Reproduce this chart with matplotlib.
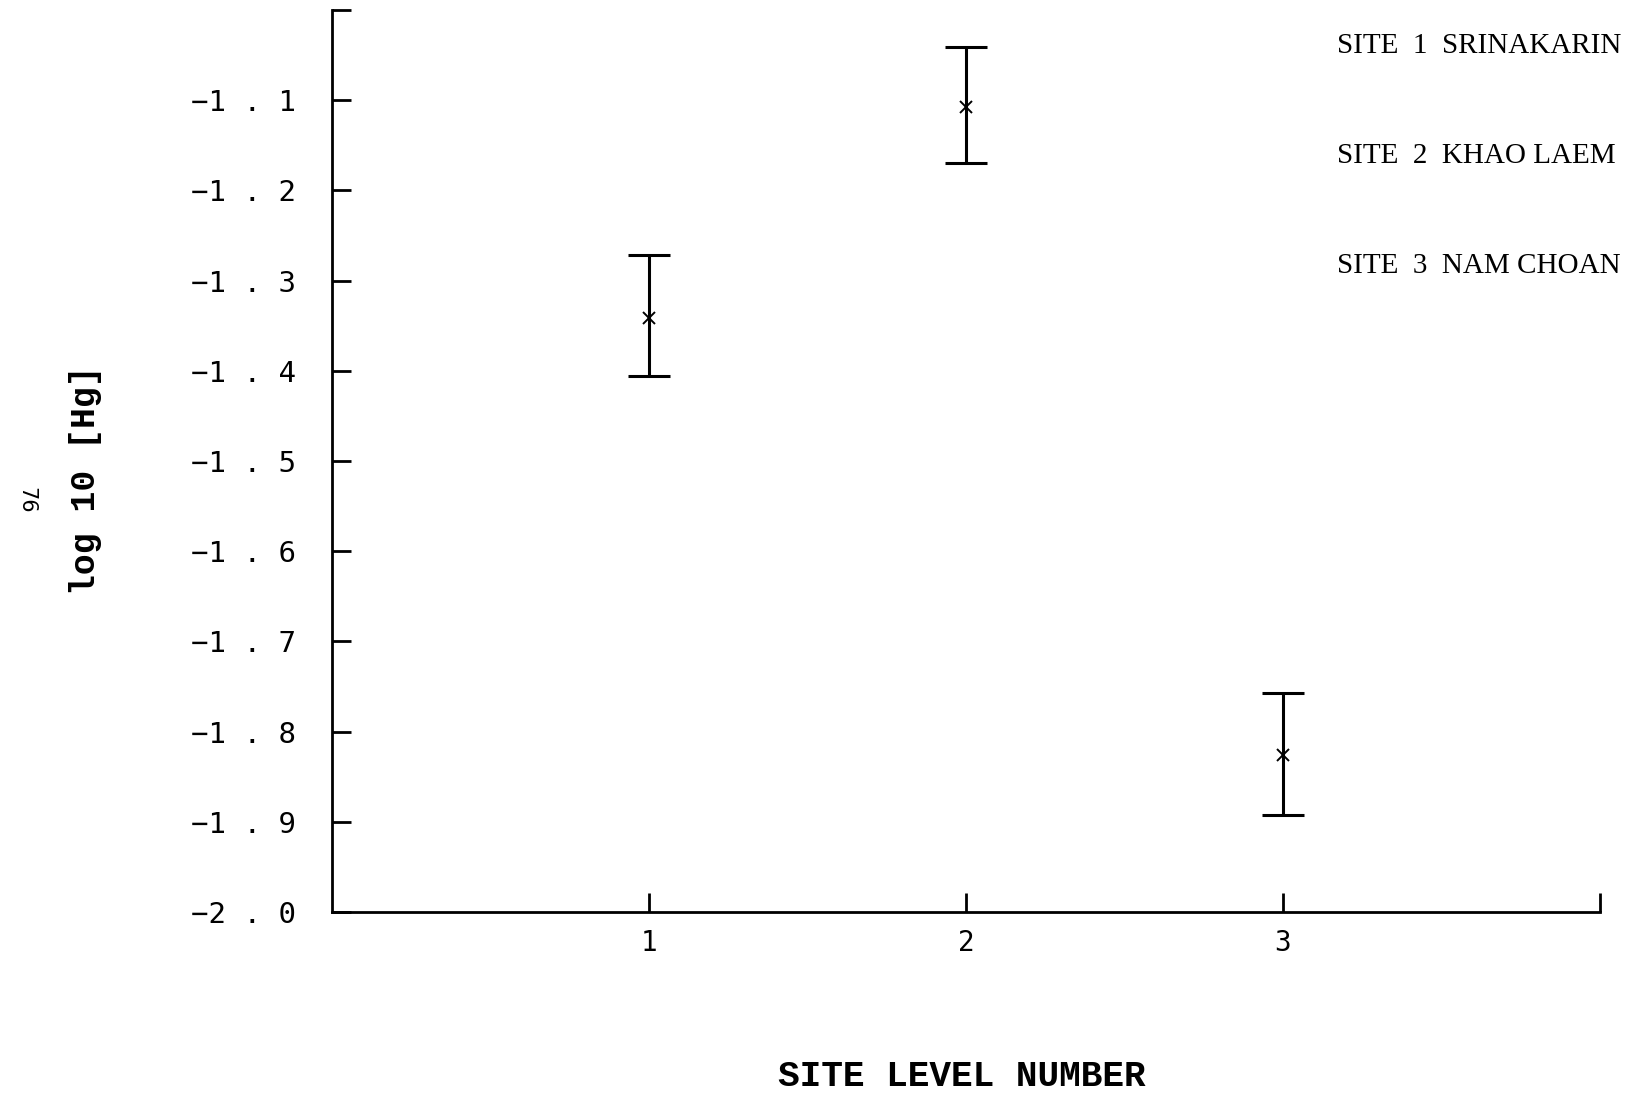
import matplotlib
matplotlib.use('Agg')
import matplotlib.pyplot as plt

# site level number and log10 [Hg] (mean, upper bar, lower bar)
sites = [1, 2, 3]
means = [-1.341, -1.108, -1.826]
upper = [-1.272, -1.041, -1.757]
lower = [-1.406, -1.170, -1.892]
yticks = [-2.0, -1.9, -1.8, -1.7, -1.6, -1.5, -1.4, -1.3, -1.2, -1.1, -1.0]
legend_lines = ['SITE  1  SRINAKARIN', 'SITE  2  KHAO LAEM', 'SITE  3  NAM CHOAN']

err_lo = [m - l for m, l in zip(means, lower)]
err_hi = [u - m for m, u in zip(means, upper)]

fig = plt.figure(figsize=(16.37, 10.99), dpi=100)
ax = fig.add_axes([0.2028, 0.170, 0.7746, 0.821])

ax.errorbar(sites, means, yerr=[err_lo, err_hi], fmt='none', ecolor='black',
            elinewidth=2.2, capsize=15, capthick=2.2)
ax.plot(sites, means, 'x', color='black', markersize=9, markeredgewidth=1.4)

ax.set_xlim(0, 4)
ax.set_ylim(-2.0, -1.0)

# y tick labels look like "-1 . 1" on the plotter
def spaced(v):
    a, b = ('%.1f' % v).split('.')
    return a.replace('-', '\u2212') + ' . ' + b

ax.set_yticks(yticks)
ax.set_yticklabels([spaced(v) for v in yticks[:-1]] + [''])
ax.set_xticks([1, 2, 3, 4])
ax.set_xticklabels(['1', '2', '3', ''])

ax.tick_params(axis='y', direction='in', length=14, width=2, pad=26,
               labelsize=21)
ax.tick_params(axis='x', direction='in', length=14, width=2, pad=12,
               labelsize=20)
for lab in ax.get_yticklabels() + ax.get_xticklabels():
    lab.set_fontfamily('DejaVu Sans Mono')

ax.spines['top'].set_visible(False)
ax.spines['right'].set_visible(False)
ax.spines['left'].set_linewidth(2)
ax.spines['bottom'].set_linewidth(2)

ax.set_xlabel('SITE LEVEL NUMBER', fontfamily='Liberation Mono',
              fontweight='bold', fontsize=26)
ax.xaxis.set_label_coords(0.497, -0.163)
ax.set_ylabel('log 10 [Hg]', fontfamily='Liberation Mono',
              fontweight='bold', fontsize=25)
ax.yaxis.set_label_coords(-0.181, 0.479)

# site names, top right
for i, t in enumerate(legend_lines):
    fig.text(1337 / 1637, 1 - (46 + 110 * i) / 1099, t, fontfamily='Liberation Serif',
             fontsize=21, ha='left', va='center')

# page number
fig.text(26 / 1637, 1 - 500 / 1099, '76', fontfamily='DejaVu Sans', fontsize=15,
         rotation=-90, ha='center', va='center')

plt.savefig('out.png', dpi=100)
